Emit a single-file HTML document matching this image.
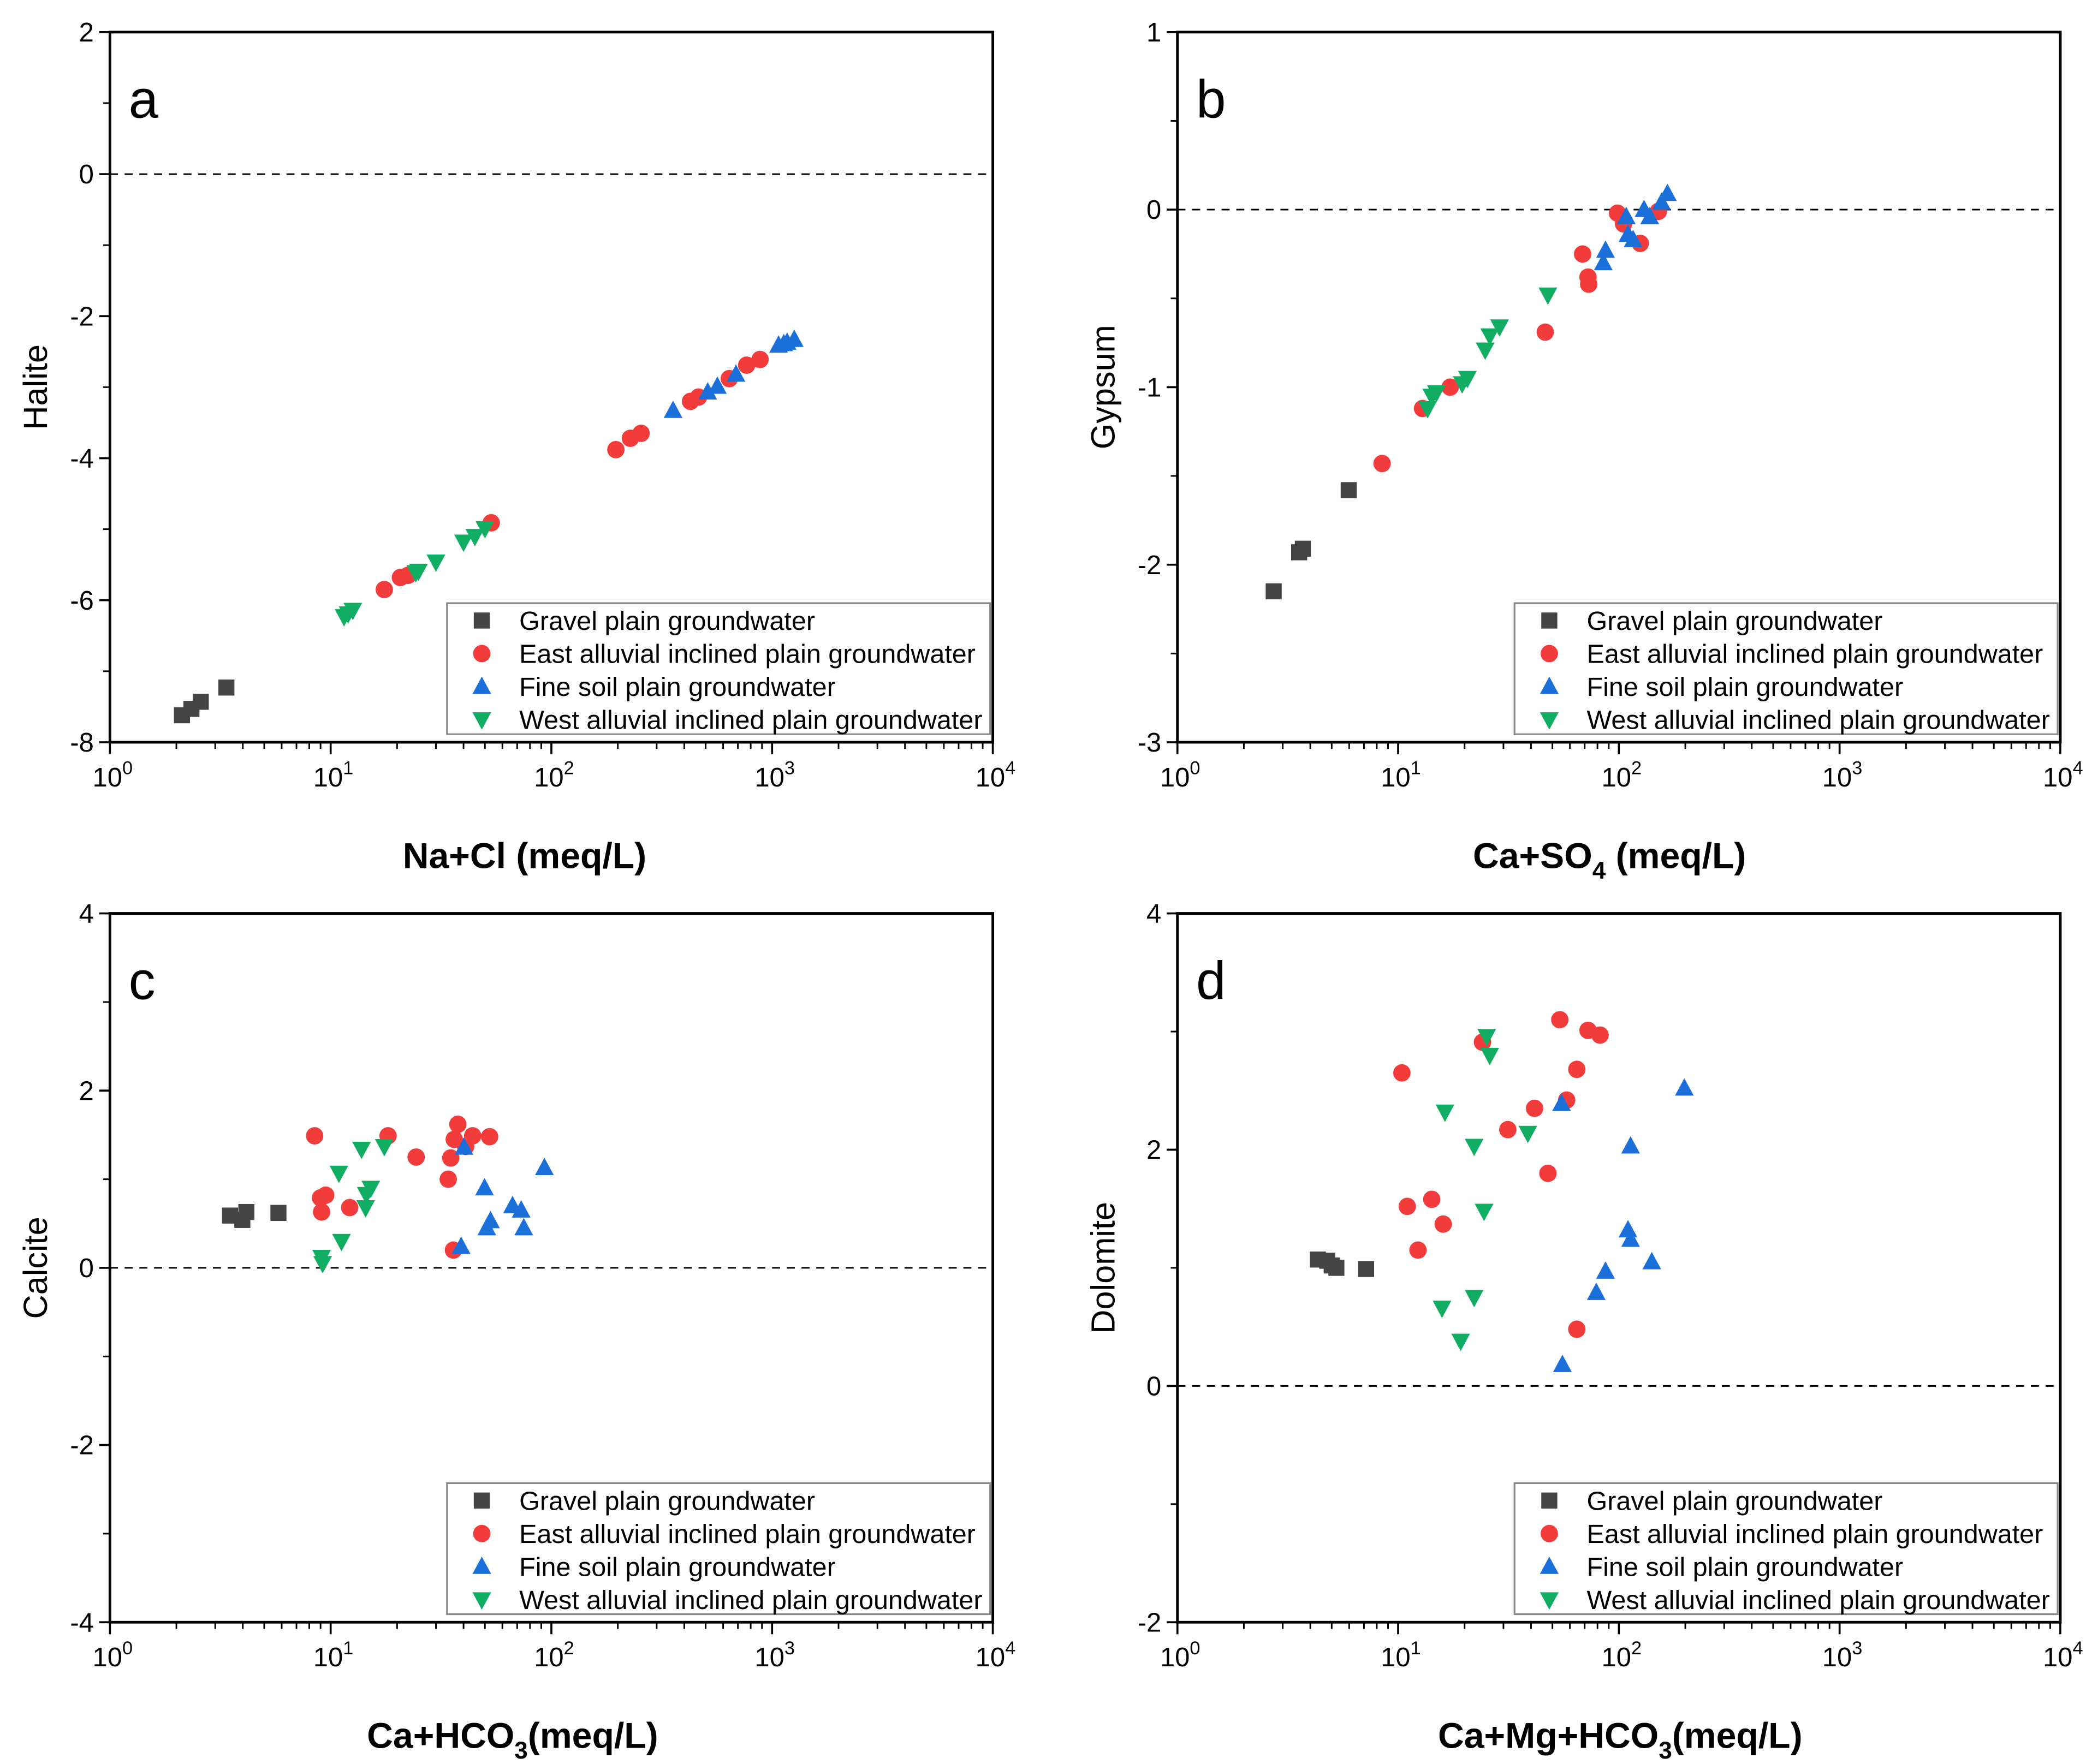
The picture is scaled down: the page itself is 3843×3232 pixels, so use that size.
<!DOCTYPE html>
<html><head><meta charset="utf-8"><style>
html,body{margin:0;padding:0;background:#fff}
svg{display:block}
text{font-family:"Liberation Sans",Arial,sans-serif}
</style></head><body>
<svg id="fig" xmlns="http://www.w3.org/2000/svg" width="3843" height="3232" viewBox="0 0 1568 1319"></svg>
<script>
// ---------- DATA ----------
const seriesNames = ["Gravel plain groundwater","East alluvial inclined plain groundwater","Fine soil plain groundwater","West alluvial inclined plain groundwater"];
// Panel a: Halite vs Na+Cl
const aGravelX=[2.12,2.34,2.58,3.37], aGravelY=[-7.62,-7.53,-7.43,-7.23];
const aEastX=[17.5,20.7,22.4,53.4,196,228,255,427,464,640,767,882];
const aEastY=[-5.85,-5.68,-5.65,-4.91,-3.88,-3.72,-3.65,-3.2,-3.14,-2.88,-2.69,-2.61];
const aFineX=[356,511,565,686,1070,1170,1260,1130];
const aFineY=[-3.33,-3.07,-2.99,-2.82,-2.41,-2.37,-2.33,-2.39];
const aWestX=[11.5,12,12.6,25,24.3,30,40,45,50];
const aWestY=[-6.23,-6.19,-6.14,-5.59,-5.61,-5.46,-5.18,-5.1,-4.99];
// Panel b: Gypsum vs Ca+SO4
const bGravelX=[2.73,3.56,3.7,5.97], bGravelY=[-2.15,-1.93,-1.91,-1.58];
const bEastX=[8.46,12.9,17.2,46.4,68.5,72.5,73,98.6,105,125,151];
const bEastY=[-1.43,-1.12,-1.0,-0.69,-0.25,-0.38,-0.42,-0.02,-0.08,-0.19,-0.01];
const bFineX=[87,85,108,110,116,130,138,156,166];
const bFineY=[-0.23,-0.3,-0.04,-0.14,-0.17,0.0,-0.04,0.04,0.09];
const bWestX=[13.6,14.2,14.9,19.5,20.6,24.8,26,28.8,47.7];
const bWestY=[-1.12,-1.05,-1.03,-0.98,-0.95,-0.79,-0.71,-0.66,-0.48];
// Panel c: Calcite vs Ca+HCO3
const cGravelX=[3.5,3.98,4.15,5.8], cGravelY=[0.59,0.54,0.63,0.62];
const cEastX=[8.46,9.0,9.5,9.1,12.2,18.2,24.4,34.1,35.0,36.3,37.7,40.9,44,52.5,36];
const cEastY=[1.49,0.79,0.82,0.63,0.68,1.49,1.25,1.0,1.24,1.45,1.62,1.37,1.49,1.48,0.2];
const cFineX=[40.2,39,49.8,51,53,66.7,73,75,93];
const cFineY=[1.36,0.24,0.9,0.45,0.53,0.7,0.65,0.45,1.13];
const cWestX=[9.1,9.2,10.9,11.2,13.8,14.5,15.2,14.4,17.5];
const cWestY=[0.12,0.05,1.07,0.3,1.34,0.83,0.9,0.68,1.37];
// Panel d: Dolomite vs Ca+Mg+HCO3
const dGravelX=[4.33,4.77,5.0,5.25,7.16], dGravelY=[1.07,1.06,1.02,1.0,0.99];
const dEastX=[10.4,11.0,12.3,14.2,16.0,24.1,31.4,41.5,47.7,54,58,64.5,72.5,82.2,64.5];
const dEastY=[2.65,1.52,1.15,1.58,1.37,2.91,2.17,2.35,1.8,3.1,2.42,2.68,3.01,2.97,0.48];
const dFineX=[55,55.5,79,87,113,110,113,141,198];
const dFineY=[2.39,0.18,0.79,0.97,2.03,1.32,1.24,1.05,2.52];
const dWestX=[16.3,22.1,24.5,25.2,26,38.7,15.8,19.2,22.1];
const dWestY=[2.32,2.03,1.48,2.96,2.8,2.14,0.66,0.38,0.75];

const xTickExps=[0,1,2,3,4];
const colors=["#454545","#f23b3b","#1b6fd8","#10ad62"];
const markerTypes=["square","circle","up","down"];

const NS="http://www.w3.org/2000/svg";
const svg=document.getElementById("fig");
function mk(tag,attrs,parent){const e=document.createElementNS(NS,tag);for(const k in attrs)e.setAttribute(k,attrs[k]);(parent||svg).appendChild(e);return e;}

function marker(g,type,cx,cy,col){
  let e;
  if(type==="square") e=mk("rect",{x:cx-6,y:cy-6,width:12,height:12,fill:col},g);
  else if(type==="circle") e=mk("circle",{cx:cx,cy:cy,r:6.5,fill:col},g);
  else if(type==="up") e=mk("polygon",{points:`${cx},${cy-7.5} ${cx+7},${cy+5.5} ${cx-7},${cy+5.5}`,fill:col},g);
  else e=mk("polygon",{points:`${cx},${cy+7.5} ${cx+7},${cy-5.5} ${cx-7},${cy-5.5}`,fill:col},g);
  return e;
}

function panel(p){
  const g=mk("g",{});
  
  
  const X=v=>p.x0+(p.x1-p.x0)*Math.log10(v)/4;
  const Y=v=>p.y0+(p.y1-p.y0)*(p.ymax-v)/(p.ymax-p.ymin);
  const fr=mk("rect",{x:p.x0,y:p.y0,width:p.x1-p.x0,height:p.y1-p.y0,fill:"none",stroke:"#000","stroke-width":2},g);
  
  
  const z=mk("line",{x1:p.x0,x2:p.x1,y1:Y(0),y2:Y(0),stroke:"#000","stroke-width":1.2,"stroke-dasharray":"6,5"},g);
  
  
  xTickExps.forEach(ex=>{
    const x=X(Math.pow(10,ex));
    mk("line",{x1:x,x2:x,y1:p.y1,y2:p.y1+9,stroke:"#000","stroke-width":1.5},g);
    const t=mk("text",{x:x+2,y:p.y1+33,"font-size":20,"text-anchor":"middle",fill:"#000"},g);
    
    
    t.textContent="10";
    const s=mk("tspan",{dy:-9,"font-size":14},t); s.textContent=ex;
    if(ex<4) for(let m=2;m<=9;m++){const xm=X(m*Math.pow(10,ex));mk("line",{x1:xm,x2:xm,y1:p.y1,y2:p.y1+5,stroke:"#000","stroke-width":1.2},g);}
  });
  for(let v=p.ymin;v<=p.ymax+1e-9;v+=p.ystep){
    const y=Y(v);
    mk("line",{x1:p.x0-8,x2:p.x0,y1:y,y2:y,stroke:"#000","stroke-width":1.5},g);
    const t=mk("text",{x:p.x0-12,y:y+7,"font-size":20,"text-anchor":"end",fill:"#000"},g);
    
    
    t.textContent=v;
    if(v+p.ystep/2<p.ymax){const ym=Y(v+p.ystep/2);mk("line",{x1:p.x0-5,x2:p.x0,y1:ym,y2:ym,stroke:"#000","stroke-width":1.2},g);}
  }
  const L=mk("text",{x:p.x0+14,y:p.y0+64,"font-size":40,fill:"#000"},g);
  
  
  L.textContent=p.id;
  const xt=mk("text",{x:p.xtx,y:p.y1+94,"font-size":27,"font-weight":"bold","text-anchor":"middle",fill:"#000"},g);
  
  
  p.xtitle.forEach(([s,sub])=>{const ts=mk("tspan",sub?{"font-size":18,dy:8}:{dy:p._d||0},xt);ts.textContent=s;p._d=sub?-8:0;});
  p._d=0;
  const yc=(p.y0+p.y1)/2;
  const yt=mk("text",{x:0,y:0,"font-size":25,"text-anchor":"middle",fill:"#000",transform:`translate(${p.x0-47},${yc}) rotate(-90)`},g);
  
  
  yt.textContent=p.ytitle;
  p.data.forEach((d,i)=>{
    const sg=mk("g",{},g);
    
    
    d[0].forEach((xv,j)=>{
      const m=marker(sg,markerTypes[i],X(xv),Y(d[1][j]),colors[i]);
      
      
    });
  });
  const lg=mk("g",{},g);
  
  
  const lx=p.x1-408, ly=p.y1-104;
  mk("rect",{x:lx,y:ly,width:406,height:98,fill:"#fff",stroke:"#888","stroke-width":1.3},lg);
  seriesNames.forEach((n,i)=>{
    const ey=ly+13+i*24.7;
    const en=mk("g",{},lg);
    
    
    marker(en,markerTypes[i],lx+26,ey,colors[i]);
    const t=mk("text",{x:lx+54,y:ey+7,"font-size":19.8,fill:"#000"},en);
    t.textContent=n;
  });
}

panel({id:"a",x0:82,x1:742,y0:24,y1:555,ymin:-8,ymax:2,ystep:2,xtx:392,ytitle:"Halite",
  xtitle:[["Na+Cl (meq/L)",false]],
  data:[[aGravelX,aGravelY],[aEastX,aEastY],[aFineX,aFineY],[aWestX,aWestY]]});
panel({id:"b",x0:880,x1:1540,y0:24,y1:555,ymin:-3,ymax:1,ystep:1,xtx:1203,ytitle:"Gypsum",
  xtitle:[["Ca+SO",false],["4",true],[" (meq/L)",false]],
  data:[[bGravelX,bGravelY],[bEastX,bEastY],[bFineX,bFineY],[bWestX,bWestY]]});
panel({id:"c",x0:82,x1:742,y0:683,y1:1213,ymin:-4,ymax:4,ystep:2,xtx:383,ytitle:"Calcite",
  xtitle:[["Ca+HCO",false],["3",true],["(meq/L)",false]],
  data:[[cGravelX,cGravelY],[cEastX,cEastY],[cFineX,cFineY],[cWestX,cWestY]]});
panel({id:"d",x0:880,x1:1540,y0:683,y1:1213,ymin:-2,ymax:4,ystep:2,xtx:1211,ytitle:"Dolomite",
  xtitle:[["Ca+Mg+HCO",false],["3",true],["(meq/L)",false]],
  data:[[dGravelX,dGravelY],[dEastX,dEastY],[dFineX,dFineY],[dWestX,dWestY]]});
</script>
</body></html>
